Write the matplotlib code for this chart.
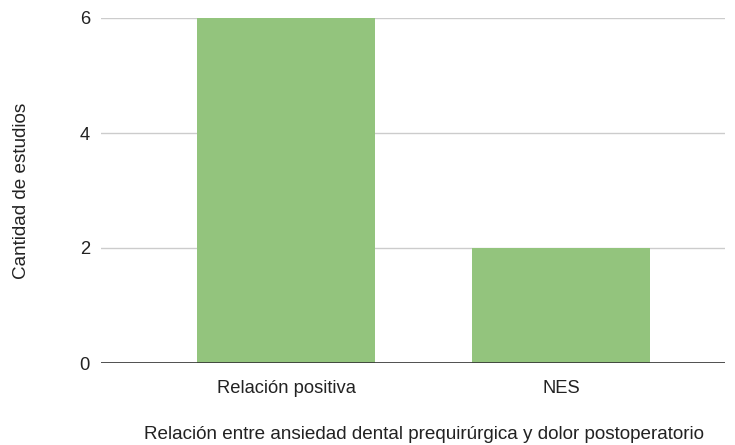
import matplotlib.pyplot as plt

plt.rcParams['font.family'] = ['Liberation Sans', 'DejaVu Sans']

categorias = ['Relación positiva', 'NES']
estudios = [6, 2]

fig = plt.figure(figsize=(7.35, 4.45), dpi=100)
ax = fig.add_axes([101 / 735, (445 - 363) / 445, 624 / 735, 345 / 445])

x = range(len(categorias))
ax.bar(x, estudios, width=0.647, color='#93c47d', zorder=3)

ax.set_xlim(-0.673, 1.596)
ax.set_ylim(0, 6)
ax.set_yticks([0, 2, 4, 6])
ax.set_xticks(list(x))
ax.set_xticklabels(categorias)
ax.yaxis.grid(True, color='#cccccc', linewidth=1, zorder=0)
ax.axhline(0, color='#333333', linewidth=1.2, zorder=4)

for s in ax.spines.values():
    s.set_visible(False)
ax.tick_params(axis='both', length=0, labelsize=13.2, colors='#222222')
ax.tick_params(axis='y', pad=8)
ax.tick_params(axis='x', pad=12)

ax.set_ylabel('Cantidad de estudios', fontsize=13.6, color='#222222')
ax.yaxis.label.set_va('center')
ax.yaxis.set_label_coords(-0.128, 0.5)

ax.set_xlabel('Relación entre ansiedad dental prequirúrgica y dolor postoperatorio',
              fontsize=13.6, color='#222222')
ax.xaxis.label.set_va('center')
ax.xaxis.set_label_coords(0.518, -0.206)

fig.savefig('out.png', dpi=100)
